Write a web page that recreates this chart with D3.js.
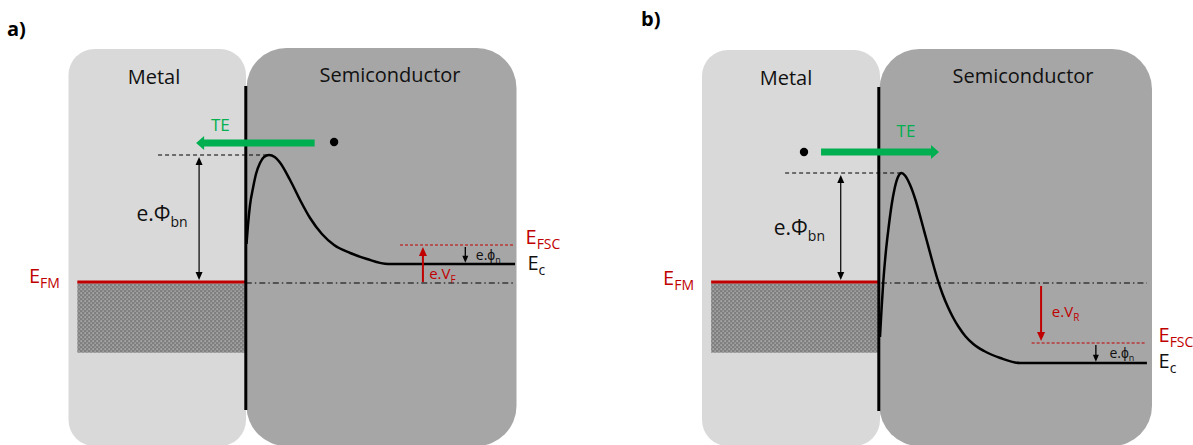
<!DOCTYPE html>
<html><head><meta charset="utf-8">
<script src="https://cdn.jsdelivr.net/npm/d3@7"></script>
<style>body{margin:0;background:#fff}svg{display:block}text{font-family:'Open Sans',sans-serif}</style>
</head><body><svg id="c" width="1193" height="445"></svg>
<script>
// ---------- data ----------
const panelTags = ["a)", "b)"];
const regionNames = ["Metal", "Semiconductor"];
// conduction band profile: [distance from interface (a.u.), energy relative to E_FM (a.u.)]
const bandForward = [[0.26,0.38],[0.81,0.57],[1.56,0.77],[2.67,0.94],[3.78,1.08],[5.26,1.19],[6.74,1.25],[8.59,1.27],[10.7,1.25],[12.5,1.20],[16.4,1.02],[20.1,0.82],[23.8,0.64],[28.2,0.48],[32.7,0.37],[38.7,0.29],[44.9,0.23],[52.7,0.18],[99.7,0.18]];
const bandReverse = [[0.44,-0.55],[1.0,-0.28],[1.6,-0.02],[2.6,0.30],[3.7,0.56],[4.8,0.78],[5.9,0.94],[7.1,1.05],[8.4,1.09],[9.7,1.065],[11.6,0.97],[13.6,0.82],[15.6,0.63],[17.6,0.43],[19.6,0.23],[21.6,0.04],[23.6,-0.12],[25.6,-0.25],[27.6,-0.36],[29.6,-0.45],[32.0,-0.54],[35.0,-0.62],[39.0,-0.69],[45.0,-0.76],[52.3,-0.81],[99.3,-0.81]];
const bandProfiles = [bandForward, bandReverse];
const barrierTop = [1.27, 1.09];        // e.Φbn level
const fermiSC = [0.37, -0.61];          // E_FSC
const condEdge = [0.18, -0.81];         // E_c
const biasStart = [0, -0.04];
const biasSub = ["F", "R"];
const teDirection = [-1, 1];

// ---------- layout (positions / styles) ----------
const layouts = [
  {ix:245.8, metal:[68.5,49,246,446,26], semi:[246.5,48,516.5,446,40], wall:[86,410],
   titles:[[154,84],[390,81.5]], tag:[7,36],
   barrierFrom:-32.5, dblX:-17.3, te:[25.5,-18.4,1.39], dot:[32.7,1.40], teText:[-12.9,1.51],
   phiText:[-40.5,0.61], efmText:[-80.3,-0.01], efmFrom:-62.4, hatchBottom:-0.707,
   dd:[0,99.7], efsc:[57.1,99.7], efscText:[103.6,0.38], ecText:[104.3,0.12],
   biasX:65.6, biasText:[67.9,0.03], phinX:81.3, phinText:[85.2,0.22]},
  {ix:878.8, metal:[702,50,880,446,26], semi:[879.5,49,1152,446,40], wall:[87,411],
   titles:[[786,85],[1023,83]], tag:[641,26],
   barrierFrom:-34.7, dblX:-14.1, te:[-21.4,22.3,1.30], dot:[-27.7,1.30], teText:[6.6,1.45],
   phiText:[-38.9,0.47], efmText:[-79.9,-0.03], efmFrom:-62.1, hatchBottom:-0.707,
   dd:[0.8,99.3], efsc:[56.6,98.8], efscText:[103.6,-0.60], ecText:[103.6,-0.86],
   biasX:60.1, biasText:[64.1,-0.35], phinX:80.4, phinText:[85.4,-0.76]}
];
const RED = "#c00000", GREEN = "#00b050", INK = "#000";

const svg = d3.select("#c");
const defs = svg.append("defs");
const pat = defs.append("pattern").attr("id","dots").attr("patternUnits","userSpaceOnUse")
  .attr("width",4).attr("height",4);
pat.append("rect").attr("width",4).attr("height",4).attr("fill","#808080");
pat.append("rect").attr("x",0.5).attr("y",0.5).attr("width",1.2).attr("height",1.2).attr("fill","#cfcfcf");
pat.append("rect").attr("x",2.5).attr("y",2.5).attr("width",1.2).attr("height",1.2).attr("fill","#bdbdbd");

const y = d3.scaleLinear().domain([0, 1]).range([282, 182]);

function label(g, x, yy, main, sub, size, subSize, color, subDy, weight) {
  const t = g.append("text").attr("x", x).attr("y", yy).attr("fill", color)
    .attr("font-size", size).attr("font-weight", weight || 400);
  t.append("tspan").text(main);
  if (sub) t.append("tspan").attr("dy", subDy).attr("font-size", subSize).text(sub);
  return t;
}
function vArrow(g, x, y0, y1, color, w, hw, hl, both) {
  const dir = Math.sign(y1 - y0);
  g.append("line").attr("x1", x).attr("x2", x)
    .attr("y1", both ? y0 + dir*hl*0.8 : y0).attr("y2", y1 - dir*hl*0.8)
    .attr("stroke", color).attr("stroke-width", w);
  const head = (tipY, d) => g.append("path")
    .attr("d", `M${x},${tipY} L${x-hw/2},${tipY-d*hl} L${x+hw/2},${tipY-d*hl} Z`).attr("fill", color);
  head(y1, dir);
  if (both) head(y0, -dir);
}

layouts.forEach((L, i) => {
  const g = svg.append("g");
  const x = d3.scaleLinear().domain([0, 100]).range([L.ix, L.ix + 270]);
  const [mx0,my0,mx1,my1,mr] = L.metal, [sx0,sy0,sx1,sy1,sr] = L.semi;

  label(g, L.tag[0], L.tag[1], panelTags[i], null, 20, 0, INK, 0, 700);
  g.append("rect").attr("x",mx0).attr("y",my0).attr("width",mx1-mx0).attr("height",my1-my0)
    .attr("rx",mr).attr("fill","#d9d9d9");
  g.append("rect").attr("x",sx0).attr("y",sy0).attr("width",sx1-sx0).attr("height",sy1-sy0)
    .attr("rx",sr).attr("fill","#a6a6a6");
  regionNames.forEach((n, k) => g.append("text").attr("x", L.titles[k][0]).attr("y", L.titles[k][1])
    .attr("text-anchor","middle").attr("font-size",20).attr("fill","#111").text(n));

  g.append("rect").attr("x", x(L.efmFrom)).attr("y", y(0)+1.3)
    .attr("width", L.ix - x(L.efmFrom) - 1).attr("height", y(L.hatchBottom) - y(0) - 1.3)
    .attr("fill","url(#dots)");

  g.append("line").attr("x1", x(L.dd[0])).attr("x2", x(L.dd[1])).attr("y1", y(0)+1).attr("y2", y(0)+1)
    .attr("stroke","#000").attr("stroke-width",1).attr("stroke-dasharray","6,3,1.5,3");

  const peak = bandProfiles[i].reduce((a, b) => b[1] > a[1] ? b : a);
  g.append("line").attr("x1", x(L.barrierFrom)).attr("x2", x(peak[0])).attr("y1", y(barrierTop[i])).attr("y2", y(barrierTop[i]))
    .attr("stroke","#000").attr("stroke-width",1).attr("stroke-dasharray","4,3");

  g.append("line").attr("x1", x(L.efsc[0])).attr("x2", x(L.efsc[1])).attr("y1", y(fermiSC[i])).attr("y2", y(fermiSC[i]))
    .attr("stroke",RED).attr("stroke-width",1.2).attr("stroke-dasharray","3,2");

  g.append("path").datum(bandProfiles[i])
    .attr("d", d3.line().x(d => x(d[0])).y(d => y(d[1])).curve(d3.curveMonotoneX))
    .attr("fill","none").attr("stroke","#000").attr("stroke-width",2.5);

  g.append("line").attr("x1", x(L.efmFrom)).attr("x2", L.ix).attr("y1", y(0)).attr("y2", y(0))
    .attr("stroke",RED).attr("stroke-width",3.2);

  g.append("line").attr("x1", L.ix).attr("x2", L.ix).attr("y1", L.wall[0]).attr("y2", L.wall[1])
    .attr("stroke","#000").attr("stroke-width",3);

  vArrow(g, x(L.dblX), y(barrierTop[i]) + 2, y(0) - 2, "#000", 1.2, 7, 8, true);
  label(g, x(L.phiText[0]), y(L.phiText[1]), "e.Φ", "bn", 21, 14, "#111", 6);
  label(g, x(L.efmText[0]), y(L.efmText[1]), "E", "FM", 20, 14, RED, 5);

  const [t0, t1, tE] = L.te, d = teDirection[i], ty = y(tE), hl = 8, hw = 14, sw = 7;
  const tip = x(t1), base = tip - d*hl;
  g.append("path").attr("d",
    `M${x(t0)},${ty-sw/2} L${base},${ty-sw/2} L${base},${ty-hw/2} L${tip},${ty} L${base},${ty+hw/2} L${base},${ty+sw/2} L${x(t0)},${ty+sw/2} Z`)
    .attr("fill", GREEN);
  g.append("circle").attr("cx", x(L.dot[0])).attr("cy", y(L.dot[1])).attr("r", 4.2).attr("fill","#000");
  g.append("text").attr("x", x(L.teText[0])).attr("y", y(L.teText[1])).attr("font-size",17).attr("fill",GREEN).text("TE");

  const bDir = Math.sign(fermiSC[i] - biasStart[i]);
  vArrow(g, x(L.biasX), y(biasStart[i]), y(fermiSC[i] - bDir*0.02), RED, 2, 8, 9, false);
  label(g, x(L.biasText[0]), y(L.biasText[1]), "e.V", biasSub[i], 15, 10, RED, 4);

  vArrow(g, x(L.phinX), y(fermiSC[i] - 0.02), y(condEdge[i] + 0.012), "#000", 1.3, 6, 7, false);
  label(g, x(L.phinText[0]), y(L.phinText[1]), "e.ϕ", "n", 14, 9, "#111", 3);

  label(g, x(L.efscText[0]), y(L.efscText[1]), "E", "FSC", 20, 14, RED, 5);
  label(g, x(L.ecText[0]), y(L.ecText[1]), "E", "c", 20, 14, "#111", 5);
});
</script></body></html>
